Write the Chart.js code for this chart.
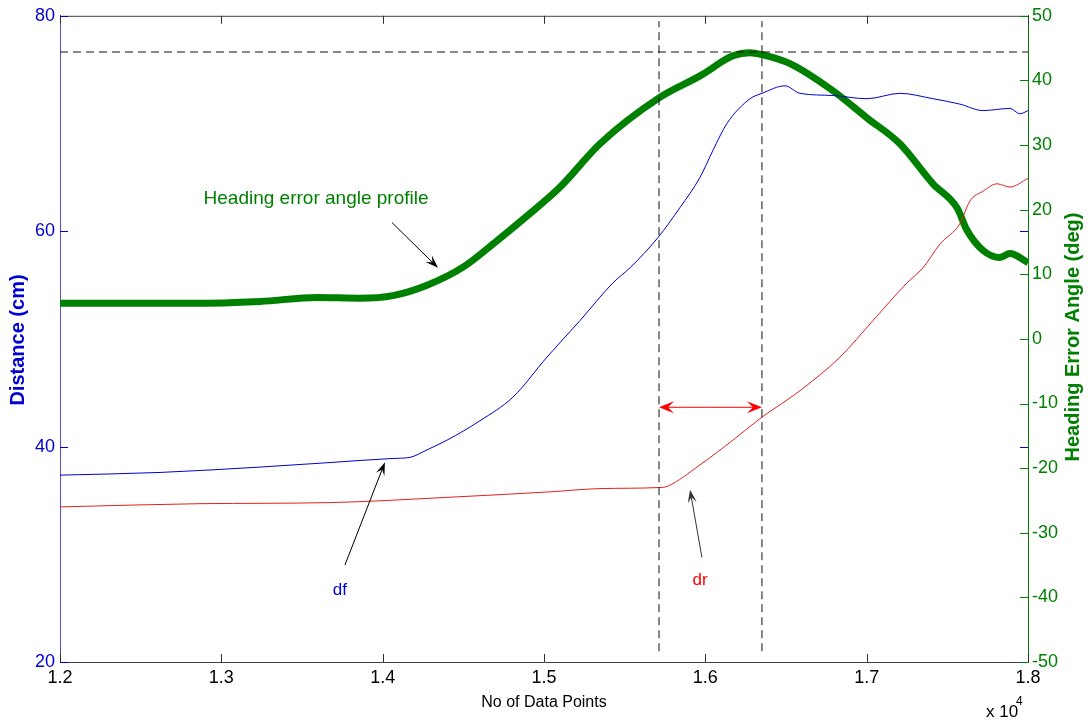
<!DOCTYPE html>
<html>
<head>
<meta charset="utf-8">
<script src="https://cdn.jsdelivr.net/npm/chart.js@4.4.1/dist/chart.umd.min.js"></script>
<style>
  html, body { margin: 0; padding: 0; background: #fff; }
  #c { display: block; }
</style>
</head>
<body>
<canvas id="c" width="1088" height="723"></canvas>
<script>
// data (x = data point index, left axis in cm, right axis in deg)
const dfX = [12000, 12620, 13240, 13655, 14064, 14169, 14275, 14399, 14603, 14808, 15018, 15223, 15427, 15533, 15706, 15843, 15967, 16047, 16134, 16277, 16351, 16494, 16587, 16791, 17002, 17206, 17411, 17578, 17721, 17888, 17950, 18000];
const dfY = [37.35, 37.6, 38.1, 38.5, 38.9, 39.0, 39.7, 40.6, 42.4, 44.6, 48.3, 51.7, 55.2, 56.6, 59.4, 62.2, 65.0, 67.5, 70.0, 72.3, 72.8, 73.5, 72.8, 72.6, 72.3, 72.8, 72.3, 71.8, 71.2, 71.4, 70.9, 71.2];

const drX = [12000, 12868, 13673, 14417, 15037, 15347, 15713, 15762, 15967, 16171, 16339, 16587, 16834, 17039, 17250, 17349, 17454, 17578, 17640, 17720, 17808, 17888, 18000];
const drY = [34.4, 34.7, 34.8, 35.3, 35.8, 36.1, 36.2, 36.3, 38.3, 40.6, 42.6, 45.2, 48.3, 51.7, 55.2, 56.6, 58.8, 60.7, 62.8, 63.7, 64.4, 64.1, 64.9];

const headX = [12000, 12824, 13240, 13593, 13859, 14064, 14275, 14498, 14709, 14913, 15100, 15347, 15713, 15967, 16171, 16277, 16351, 16525, 16791, 17002, 17206, 17411, 17560, 17622, 17721, 17826, 17888, 18000];
const headY = [5.5, 5.5, 5.8, 6.4, 6.3, 6.7, 8.3, 11.1, 15.2, 19.4, 23.5, 30.2, 37.3, 40.7, 43.8, 44.3, 44.0, 42.6, 38.4, 34.2, 30.2, 24.0, 20.3, 16.8, 13.7, 12.6, 13.2, 11.8];

const xTicks = [12000, 13000, 14000, 15000, 16000, 17000, 18000];
const distTicks = [20, 40, 60, 80];
const angleTicks = [-50, -40, -30, -20, -10, 0, 10, 20, 30, 40, 50];

// marker lines
const vLineX = [15713, 16351];
const peakAngle = 44.4;
const arrowDist = 43.65;

const BLUE = '#0000d0';
const RED = '#e02020';
const GREEN = '#008000';

function pts(xs, ys) {
  return xs.map((x, i) => ({ x: x, y: ys[i] }));
}

const dashLine = {
  borderColor: '#111',
  borderWidth: 1,
  borderDash: [8, 5],
  pointRadius: 0,
  fill: false
};

function arrow(ctx, x1, y1, x2, y2, color, len, wid) {
  const a = Math.atan2(y2 - y1, x2 - x1);
  ctx.strokeStyle = color;
  ctx.fillStyle = color;
  ctx.lineWidth = 1;
  ctx.beginPath();
  ctx.moveTo(x1, y1);
  ctx.lineTo(x2 - Math.cos(a) * len * 0.6, y2 - Math.sin(a) * len * 0.6);
  ctx.stroke();
  ctx.beginPath();
  ctx.moveTo(x2, y2);
  ctx.lineTo(x2 - Math.cos(a) * len + Math.sin(a) * wid / 2, y2 - Math.sin(a) * len - Math.cos(a) * wid / 2);
  ctx.lineTo(x2 - Math.cos(a) * len * 0.6, y2 - Math.sin(a) * len * 0.6);
  ctx.lineTo(x2 - Math.cos(a) * len - Math.sin(a) * wid / 2, y2 - Math.sin(a) * len + Math.cos(a) * wid / 2);
  ctx.closePath();
  ctx.fill();
}

const decorations = {
  id: 'decorations',
  afterDraw(chart) {
    const ctx = chart.ctx;
    const xs = chart.scales.x, ys = chart.scales.y, y2 = chart.scales.y2;
    const area = chart.chartArea;
    ctx.save();

    // top frame line
    ctx.strokeStyle = '#404040';
    ctx.lineWidth = 1;
    ctx.beginPath();
    ctx.moveTo(area.left, area.top + 0.5);
    ctx.lineTo(area.right, area.top + 0.5);
    ctx.stroke();

    // inward ticks
    const tl = 8;
    ctx.strokeStyle = '#303030';
    xTicks.forEach(v => {
      const px = Math.round(xs.getPixelForValue(v)) + 0.5;
      ctx.beginPath();
      ctx.moveTo(px, area.bottom); ctx.lineTo(px, area.bottom - tl);
      ctx.moveTo(px, area.top); ctx.lineTo(px, area.top + tl);
      ctx.stroke();
    });
    ctx.strokeStyle = BLUE;
    distTicks.forEach(v => {
      const py = Math.round(ys.getPixelForValue(v)) + 0.5;
      ctx.beginPath();
      ctx.moveTo(area.left, py); ctx.lineTo(area.left + tl, py);
      ctx.moveTo(area.right, py); ctx.lineTo(area.right - tl, py);
      ctx.stroke();
    });
    ctx.strokeStyle = GREEN;
    angleTicks.forEach(v => {
      const py = Math.round(y2.getPixelForValue(v)) + 0.5;
      ctx.beginPath();
      ctx.moveTo(area.right, py); ctx.lineTo(area.right - tl, py);
      ctx.stroke();
    });

    // double arrow between the two dashed lines
    const ay = ys.getPixelForValue(arrowDist);
    const ax1 = xs.getPixelForValue(vLineX[0]), ax2 = xs.getPixelForValue(vLineX[1]);
    const mid = (ax1 + ax2) / 2;
    arrow(ctx, mid, ay, ax1, ay, '#ff0000', 15, 12);
    arrow(ctx, mid, ay, ax2, ay, '#ff0000', 15, 12);

    // pointer arrows
    arrow(ctx, xs.getPixelForValue(14058), ys.getPixelForValue(60.8), xs.getPixelForValue(14343), ys.getPixelForValue(56.6), '#000', 13, 9);
    arrow(ctx, xs.getPixelForValue(13766), ys.getPixelForValue(29.0), xs.getPixelForValue(14014), ys.getPixelForValue(38.55), '#000', 13, 9);
    arrow(ctx, xs.getPixelForValue(15979), ys.getPixelForValue(29.7), xs.getPixelForValue(15905), ys.getPixelForValue(36.0), '#333', 13, 9);

    // annotation texts
    ctx.textAlign = 'center';
    ctx.textBaseline = 'middle';
    ctx.font = '19px "Liberation Sans", Arial, sans-serif';
    ctx.fillStyle = GREEN;
    ctx.fillText('Heading error angle profile', xs.getPixelForValue(13587), ys.getPixelForValue(63.0));
    ctx.font = '17px "Liberation Sans", Arial, sans-serif';
    ctx.fillStyle = BLUE;
    ctx.fillText('df', xs.getPixelForValue(13735), ys.getPixelForValue(26.7));
    ctx.fillStyle = '#ff0000';
    ctx.fillText('dr', xs.getPixelForValue(15967), ys.getPixelForValue(27.6));

    // axis titles
    ctx.fillStyle = '#000';
    ctx.font = '16px "Liberation Sans", Arial, sans-serif';
    ctx.fillText('No of Data Points', (area.left + area.right) / 2, 703);
    ctx.textAlign = 'left';
    ctx.font = '17px "Liberation Sans", Arial, sans-serif';
    ctx.fillText('x 10', 986, 712);
    ctx.font = '12px "Liberation Sans", Arial, sans-serif';
    ctx.fillText('4', 1016, 702);

    ctx.textAlign = 'center';
    ctx.font = 'bold 20px "Liberation Sans", Arial, sans-serif';
    ctx.save();
    ctx.translate(18, 340);
    ctx.rotate(-Math.PI / 2);
    ctx.fillStyle = BLUE;
    ctx.fillText('Distance (cm)', 0, 0);
    ctx.restore();
    ctx.save();
    ctx.translate(1073, 337);
    ctx.rotate(-Math.PI / 2);
    ctx.fillStyle = GREEN;
    ctx.fillText('Heading Error Angle (deg)', 0, 0);
    ctx.restore();

    ctx.restore();
  }
};

const tickFont = { family: '"Liberation Sans", Arial, sans-serif', size: 18 };

new Chart(document.getElementById('c'), {
  type: 'line',
  data: {
    datasets: [
      Object.assign({ data: [{ x: 12000, y: peakAngle }, { x: 18000, y: peakAngle }], yAxisID: 'y2' }, dashLine),
      Object.assign({ data: [{ x: vLineX[0], y: 21 }, { x: vLineX[0], y: 79.5 }], yAxisID: 'y' }, dashLine),
      Object.assign({ data: [{ x: vLineX[1], y: 21 }, { x: vLineX[1], y: 79.5 }], yAxisID: 'y' }, dashLine),
      {
        label: 'dr',
        data: pts(drX, drY),
        yAxisID: 'y',
        borderColor: RED,
        borderWidth: 1,
        pointRadius: 0,
        cubicInterpolationMode: 'monotone'
      },
      {
        label: 'df',
        data: pts(dfX, dfY),
        yAxisID: 'y',
        borderColor: BLUE,
        borderWidth: 1,
        pointRadius: 0,
        cubicInterpolationMode: 'monotone'
      },
      {
        label: 'Heading error angle',
        data: pts(headX, headY),
        yAxisID: 'y2',
        borderColor: GREEN,
        borderWidth: 7,
        pointRadius: 0,
        cubicInterpolationMode: 'monotone'
      }
    ]
  },
  options: {
    responsive: false,
    animation: false,
    devicePixelRatio: 1,
    layout: { padding: { top: 15, left: 0, right: 0, bottom: 0 } },
    plugins: { legend: { display: false }, tooltip: { enabled: false } },
    scales: {
      x: {
        type: 'linear',
        min: 12000,
        max: 18000,
        afterFit(s) { s.height = 61; },
        grid: { display: false, drawTicks: false },
        border: { display: true, color: '#404040' },
        ticks: {
          stepSize: 1000,
          autoSkip: false,
          maxRotation: 0,
          padding: 5,
          color: '#000',
          font: tickFont,
          callback: v => (v / 10000).toFixed(1)
        }
      },
      y: {
        position: 'left',
        min: 20,
        max: 80,
        afterFit(s) { s.width = 60; },
        grid: { display: false, drawTicks: false },
        border: { display: true, color: '#5050d0' },
        ticks: { stepSize: 20, padding: 5, color: BLUE, font: tickFont }
      },
      y2: {
        position: 'right',
        min: -50,
        max: 50,
        afterFit(s) { s.width = 60; },
        grid: { display: false, drawTicks: false },
        border: { display: true, color: GREEN },
        ticks: { stepSize: 10, padding: 4, color: GREEN, font: tickFont }
      }
    }
  },
  plugins: [decorations]
});
</script>
</body>
</html>
